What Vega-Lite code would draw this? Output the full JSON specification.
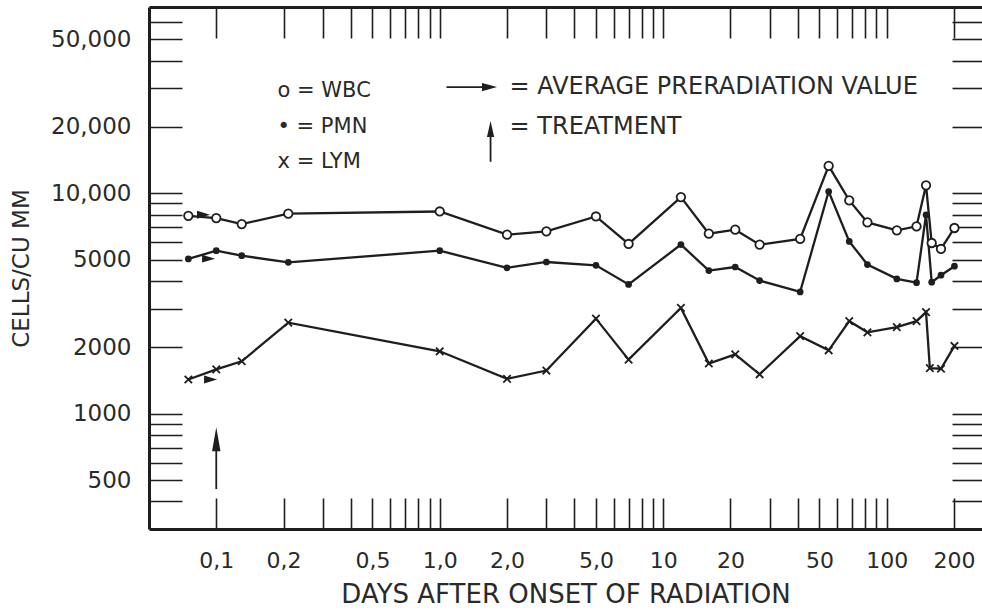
{
  "$schema": "https://vega.github.io/schema/vega-lite/v6.json",
  "autosize": "none",
  "width": 833,
  "height": 522,
  "padding": {"left": 149, "top": 7, "right": 0, "bottom": 83},
  "background": "white",
  "config": {
    "view": {"stroke": null},
    "font": "DejaVu Sans",
    "axis": {"domainColor": "#1e1e1e", "tickColor": "#1e1e1e", "labelColor": "#2a2a2a", "titleColor": "#2a2a2a", "grid": false, "labelFont": "DejaVu Sans", "titleFont": "DejaVu Sans", "titleFontWeight": "normal"}
  },
  "datasets": {
    "cells": [
      {"series": "WBC", "day": 0.075, "count": 7900}, {"series": "WBC", "day": 0.1, "count": 7720}, {"series": "WBC", "day": 0.13, "count": 7250}, {"series": "WBC", "day": 0.21, "count": 8080},
      {"series": "WBC", "day": 1, "count": 8270}, {"series": "WBC", "day": 2, "count": 6490}, {"series": "WBC", "day": 3, "count": 6720}, {"series": "WBC", "day": 5, "count": 7850},
      {"series": "WBC", "day": 7, "count": 5890}, {"series": "WBC", "day": 12, "count": 9610}, {"series": "WBC", "day": 16, "count": 6560}, {"series": "WBC", "day": 21, "count": 6840},
      {"series": "WBC", "day": 27, "count": 5850}, {"series": "WBC", "day": 41, "count": 6210}, {"series": "WBC", "day": 55, "count": 13310}, {"series": "WBC", "day": 68, "count": 9280},
      {"series": "WBC", "day": 82, "count": 7380}, {"series": "WBC", "day": 111, "count": 6790}, {"series": "WBC", "day": 136, "count": 7080}, {"series": "WBC", "day": 150, "count": 10870},
      {"series": "WBC", "day": 159, "count": 5950}, {"series": "WBC", "day": 175, "count": 5590}, {"series": "WBC", "day": 201, "count": 6960},
      {"series": "PMN", "day": 0.075, "count": 5040}, {"series": "PMN", "day": 0.1, "count": 5490}, {"series": "PMN", "day": 0.13, "count": 5210}, {"series": "PMN", "day": 0.21, "count": 4860},
      {"series": "PMN", "day": 1, "count": 5490}, {"series": "PMN", "day": 2, "count": 4590}, {"series": "PMN", "day": 3, "count": 4880}, {"series": "PMN", "day": 5, "count": 4710},
      {"series": "PMN", "day": 7, "count": 3860}, {"series": "PMN", "day": 12, "count": 5850}, {"series": "PMN", "day": 16, "count": 4460}, {"series": "PMN", "day": 21, "count": 4630},
      {"series": "PMN", "day": 27, "count": 4020}, {"series": "PMN", "day": 41, "count": 3570}, {"series": "PMN", "day": 55, "count": 10190}, {"series": "PMN", "day": 68, "count": 6050},
      {"series": "PMN", "day": 82, "count": 4750}, {"series": "PMN", "day": 111, "count": 4090}, {"series": "PMN", "day": 136, "count": 3930}, {"series": "PMN", "day": 150, "count": 7990},
      {"series": "PMN", "day": 159, "count": 3950}, {"series": "PMN", "day": 175, "count": 4250}, {"series": "PMN", "day": 201, "count": 4670},
      {"series": "LYM", "day": 0.075, "count": 1430}, {"series": "LYM", "day": 0.1, "count": 1590}, {"series": "LYM", "day": 0.13, "count": 1730}, {"series": "LYM", "day": 0.21, "count": 2590},
      {"series": "LYM", "day": 1, "count": 1920}, {"series": "LYM", "day": 2, "count": 1440}, {"series": "LYM", "day": 3, "count": 1570}, {"series": "LYM", "day": 5, "count": 2700},
      {"series": "LYM", "day": 7, "count": 1760}, {"series": "LYM", "day": 12, "count": 3020}, {"series": "LYM", "day": 16, "count": 1690}, {"series": "LYM", "day": 21, "count": 1860},
      {"series": "LYM", "day": 27, "count": 1510}, {"series": "LYM", "day": 41, "count": 2250}, {"series": "LYM", "day": 55, "count": 1940}, {"series": "LYM", "day": 68, "count": 2630},
      {"series": "LYM", "day": 82, "count": 2340}, {"series": "LYM", "day": 111, "count": 2470}, {"series": "LYM", "day": 136, "count": 2630}, {"series": "LYM", "day": 150, "count": 2890},
      {"series": "LYM", "day": 156, "count": 1610}, {"series": "LYM", "day": 175, "count": 1600}, {"series": "LYM", "day": 201, "count": 2030}
    ],
    "preradiation": [
      {"series": "WBC", "day": 0.0877, "count": 7990},
      {"series": "PMN", "day": 0.0924, "count": 5050},
      {"series": "LYM", "day": 0.0943, "count": 1430}
    ],
    "keyLeft": [
      {"day": 0.188, "count": 29100, "label": "o = WBC"},
      {"day": 0.188, "count": 20000, "label": "• = PMN"},
      {"day": 0.188, "count": 13900, "label": "x = LYM"}
    ],
    "keyRight": [
      {"day": 2.053, "count": 30330, "label": "= AVERAGE PRERADIATION VALUE"},
      {"day": 2.053, "count": 20000, "label": "= TREATMENT"}
    ]
  },
  "resolve": {"axis": {"x": "independent", "y": "independent"}},
  "layer": [
    {
      "data": {"name": "cells"},
      "mark": {"type": "line", "color": "#1e1e1e", "strokeWidth": 2.3},
      "encoding": {
        "x": {
          "field": "day", "type": "quantitative",
          "scale": {"type": "log", "domain": [0.05, 267], "nice": false},
          "axis": {
            "orient": "bottom",
            "title": "DAYS AFTER ONSET OF RADIATION",
            "titleFontSize": 26, "titlePadding": 10,
            "values": [0.1, 0.2, 0.3, 0.4, 0.5, 0.6, 0.7, 0.8, 0.9, 1, 2, 3, 4, 5, 6, 7, 8, 9, 10, 20, 30, 40, 50, 60, 70, 80, 90, 100, 200],
            "labelExpr": "datum.value==0.1?'0,1':datum.value==0.2?'0,2':datum.value==0.5?'0,5':datum.value==1?'1,0':datum.value==2?'2,0':datum.value==5?'5,0':(datum.value==10||datum.value==20||datum.value==50||datum.value==100||datum.value==200)?format(datum.value,'d'):''",
            "labelFontSize": 22, "labelPadding": 52, "labelFlush": false, "labelOverlap": false,
            "tickSize": -31, "tickWidth": 1.6, "domainWidth": 3
          }
        },
        "y": {
          "field": "count", "type": "quantitative",
          "scale": {"type": "log", "domain": [300, 70000], "nice": false},
          "axis": {
            "orient": "left",
            "title": "CELLS/CU MM",
            "titleFontSize": 23, "titlePadding": 17,
            "values": [400, 500, 600, 700, 800, 900, 1000, 2000, 3000, 4000, 5000, 6000, 7000, 8000, 9000, 10000, 20000, 30000, 40000, 50000, 60000],
            "labelExpr": "datum.value>=10000?(datum.value==30000||datum.value==40000||datum.value==60000?'':format(datum.value,',')):(datum.value==500||datum.value==1000||datum.value==2000||datum.value==5000)?format(datum.value,'d'):''",
            "labelFontSize": 23, "labelPadding": 51, "labelFlush": false, "labelOverlap": false,
            "tickSize": -33, "tickWidth": 1.6, "domainWidth": 3
          }
        },
        "detail": {"field": "series"}
      }
    },
    {
      "data": {"name": "cells"},
      "transform": [{"filter": "datum.series === 'WBC'"}],
      "mark": {"type": "point", "shape": "circle", "filled": false, "fill": "white", "stroke": "#1e1e1e", "strokeWidth": 1.8, "size": 72, "opacity": 1},
      "encoding": {
        "x": {"field": "day", "type": "quantitative", "axis": {"orient": "top", "labels": false, "title": null, "values": [0.1, 0.2, 0.3, 0.4, 0.5, 0.6, 0.7, 0.8, 0.9, 1, 2, 3, 4, 5, 6, 7, 8, 9, 10, 20, 30, 40, 50, 60, 70, 80, 90, 100, 200], "tickSize": -31, "tickWidth": 1.6, "domainWidth": 3}},
        "y": {"field": "count", "type": "quantitative", "axis": {"orient": "right", "labels": false, "title": null, "domain": false, "values": [400, 500, 600, 700, 800, 900, 1000, 2000, 3000, 4000, 5000, 6000, 7000, 8000, 9000, 10000, 20000, 30000, 40000, 50000, 60000], "tickSize": -30, "tickWidth": 1.6}}
      }
    },
    {
      "data": {"name": "cells"},
      "transform": [{"filter": "datum.series === 'PMN'"}],
      "mark": {"type": "point", "shape": "circle", "filled": true, "color": "#1e1e1e", "size": 45, "opacity": 1},
      "encoding": {
        "x": {"field": "day", "type": "quantitative", "axis": null},
        "y": {"field": "count", "type": "quantitative", "axis": null}
      }
    },
    {
      "data": {"name": "cells"},
      "transform": [{"filter": "datum.series === 'LYM'"}],
      "mark": {"type": "point", "shape": "M-1,-1L1,1M-1,1L1,-1", "filled": false, "stroke": "#1e1e1e", "strokeWidth": 1.8, "size": 55, "opacity": 1},
      "encoding": {
        "x": {"field": "day", "type": "quantitative", "axis": null},
        "y": {"field": "count", "type": "quantitative", "axis": null}
      }
    },
    {
      "data": {"name": "preradiation"},
      "mark": {"type": "point", "shape": "M1,0L-1,-0.6L-1,0.6Z", "filled": true, "color": "#1e1e1e", "size": 170, "opacity": 1},
      "encoding": {
        "x": {"field": "day", "type": "quantitative", "axis": null},
        "y": {"field": "count", "type": "quantitative", "axis": null}
      }
    },
    {
      "data": {"values": [
        {"day": 0.1, "from": 455, "to": 740},
        {"day": 1.688, "from": 13900, "to": 19000}
      ]},
      "mark": {"type": "rule", "color": "#1e1e1e", "strokeWidth": 1.8},
      "encoding": {
        "x": {"field": "day", "type": "quantitative", "axis": null},
        "y": {"field": "from", "type": "quantitative", "axis": null},
        "y2": {"field": "to"}
      }
    },
    {
      "data": {"values": [{"count": 30330, "from": 1.072, "to": 1.62}]},
      "mark": {"type": "rule", "color": "#1e1e1e", "strokeWidth": 1.8},
      "encoding": {
        "y": {"field": "count", "type": "quantitative", "axis": null},
        "x": {"field": "from", "type": "quantitative", "axis": null},
        "x2": {"field": "to"}
      }
    },
    {
      "data": {"values": [{"day": 0.1, "count": 767}]},
      "mark": {"type": "point", "shape": "M0,-1L0.35,1L-0.35,1Z", "filled": true, "color": "#1e1e1e", "size": 576, "opacity": 1},
      "encoding": {
        "x": {"field": "day", "type": "quantitative", "axis": null},
        "y": {"field": "count", "type": "quantitative", "axis": null}
      }
    },
    {
      "data": {"values": [{"day": 1.688, "count": 19580}]},
      "mark": {"type": "point", "shape": "M0,-1L0.45,1L-0.45,1Z", "filled": true, "color": "#1e1e1e", "size": 256, "opacity": 1},
      "encoding": {
        "x": {"field": "day", "type": "quantitative", "axis": null},
        "y": {"field": "count", "type": "quantitative", "axis": null}
      }
    },
    {
      "data": {"values": [{"day": 1.67, "count": 30330}]},
      "mark": {"type": "point", "shape": "M1,0L-1,-0.55L-1,0.55Z", "filled": true, "color": "#1e1e1e", "size": 225, "opacity": 1},
      "encoding": {
        "x": {"field": "day", "type": "quantitative", "axis": null},
        "y": {"field": "count", "type": "quantitative", "axis": null}
      }
    },
    {
      "data": {"name": "keyLeft"},
      "mark": {"type": "text", "align": "left", "baseline": "middle", "font": "DejaVu Sans", "fontSize": 21, "color": "#2a2a2a"},
      "encoding": {
        "x": {"field": "day", "type": "quantitative", "axis": null},
        "y": {"field": "count", "type": "quantitative", "axis": null},
        "text": {"field": "label"}
      }
    },
    {
      "data": {"name": "keyRight"},
      "mark": {"type": "text", "align": "left", "baseline": "middle", "font": "DejaVu Sans", "fontSize": 24, "color": "#2a2a2a"},
      "encoding": {
        "x": {"field": "day", "type": "quantitative", "axis": null},
        "y": {"field": "count", "type": "quantitative", "axis": null},
        "text": {"field": "label"}
      }
    }
  ]
}
